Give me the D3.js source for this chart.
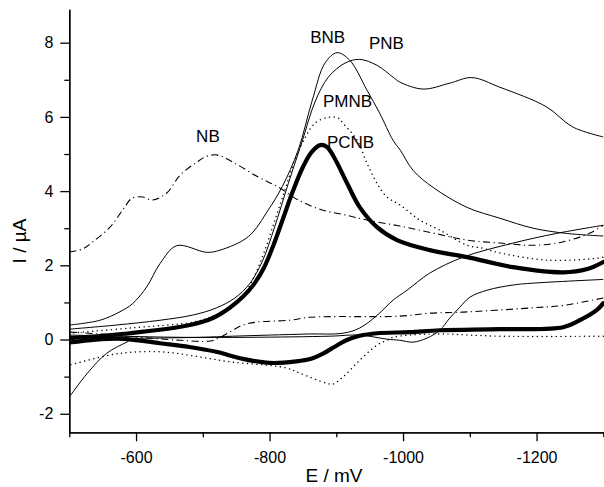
<!DOCTYPE html>
<html>
<head>
<meta charset="utf-8">
<script src="https://cdn.jsdelivr.net/npm/d3@7"></script>
<style>
  body { margin: 0; background: #fff; }
  text { font-family: "Liberation Sans", Arial, sans-serif; fill: #000; }
</style>
</head>
<body>
<div id="chart-area"></div>
<script>
// potential E (mV), current I (uA) -- forward and return branches of each CV
const nbFwd = [[-500,2.36],[-520,2.44],[-535,2.63],[-561,3.03],[-580,3.49],[-594,3.81],[-610,3.84],[-625,3.76],[-646,3.95],[-666,4.43],[-691,4.78],[-706,4.94],[-723,4.97],[-748,4.75],[-783,4.38],[-813,4.11],[-843,3.76],[-879,3.49],[-913,3.36],[-946,3.22],[-995,3.06],[-1045,2.87],[-1096,2.68],[-1145,2.60],[-1194,2.54],[-1239,2.63],[-1280,2.87],[-1300,3.08]];
const nbRev = [[-1300,1.12],[-1240,0.92],[-1190,0.85],[-1090,0.74],[-1040,0.71],[-995,0.63],[-860,0.60],[-830,0.52],[-781,0.47],[-760,0.39],[-745,0.25],[-726,0.06],[-711,-0.04],[-666,-0.02],[-606,0.06],[-546,0.15],[-500,0.20]];

const bnbFwd = [[-500,0.39],[-546,0.52],[-576,0.75],[-595,0.97],[-616,1.42],[-636,2.05],[-661,2.53],[-706,2.35],[-726,2.41],[-768,2.77],[-798,3.49],[-819,4.12],[-843,5.11],[-864,6.45],[-883,7.45],[-901,7.73],[-920,7.53],[-946,6.72],[-965,6.10],[-985,5.37],[-996,5.10],[-1015,4.56],[-1045,4.10],[-1096,3.56],[-1145,3.27],[-1195,3.00],[-1245,2.86],[-1300,2.79]];
const bnbRev = [[-1300,3.08],[-1230,2.86],[-1165,2.60],[-1090,2.22],[-1040,1.79],[-1006,1.33],[-985,1.06],[-961,0.65],[-935,0.31],[-910,0.17],[-860,0.15],[-800,0.12],[-745,0.09],[-696,0.06],[-636,0.04],[-595,0.01],[-586,-0.07],[-556,-0.37],[-527,-0.91],[-500,-1.55]];

const pnbFwd = [[-500,0.28],[-570,0.39],[-636,0.52],[-685,0.66],[-720,0.85],[-748,1.12],[-770,1.50],[-789,2.10],[-807,3.00],[-828,4.20],[-849,5.35],[-868,6.40],[-888,7.07],[-913,7.45],[-935,7.55],[-961,7.39],[-985,7.07],[-995,6.94],[-1030,6.75],[-1070,6.91],[-1103,7.06],[-1145,6.80],[-1215,6.27],[-1254,5.73],[-1300,5.46]];
const pnbRev = [[-1300,1.62],[-1195,1.52],[-1165,1.47],[-1126,1.33],[-1100,1.14],[-1085,0.87],[-1070,0.58],[-1055,0.25],[-1036,0.04],[-1015,-0.07],[-995,-0.02],[-976,0.01],[-935,0.12],[-890,0.09],[-771,0.06],[-666,0.06],[-576,0.09],[-500,0.12]];

const pmnbFwd = [[-500,0.17],[-591,0.31],[-685,0.47],[-711,0.60],[-741,0.87],[-763,1.25],[-778,1.74],[-793,2.41],[-808,3.22],[-823,4.03],[-838,4.84],[-853,5.43],[-868,5.83],[-888,5.99],[-903,5.97],[-910,5.83],[-931,5.38],[-946,4.75],[-961,4.21],[-976,3.84],[-996,3.62],[-1025,3.22],[-1055,2.95],[-1096,2.54],[-1120,2.46],[-1141,2.35],[-1216,2.14],[-1291,2.19],[-1300,2.22]];
const pmnbRev = [[-1300,0.09],[-1145,0.09],[-1055,0.15],[-1010,0.12],[-985,0.06],[-976,-0.02],[-961,-0.15],[-935,-0.56],[-910,-1.01],[-895,-1.20],[-886,-1.18],[-846,-0.91],[-826,-0.77],[-796,-0.69],[-745,-0.61],[-696,-0.47],[-645,-0.34],[-595,-0.34],[-560,-0.42],[-500,-0.69]];

const pcnbFwd = [[-500,0.04],[-591,0.17],[-681,0.39],[-715,0.58],[-740,0.85],[-760,1.15],[-777,1.50],[-792,1.95],[-806,2.55],[-820,3.25],[-835,4.00],[-850,4.65],[-863,5.05],[-876,5.24],[-886,5.19],[-897,4.90],[-916,4.22],[-935,3.57],[-961,3.03],[-991,2.68],[-1040,2.41],[-1096,2.22],[-1165,1.95],[-1240,1.81],[-1276,1.90],[-1300,2.09]];
const pcnbRev = [[-1300,0.98],[-1290,0.79],[-1265,0.52],[-1240,0.33],[-1145,0.28],[-1055,0.25],[-1010,0.20],[-961,0.17],[-935,0.10],[-915,-0.02],[-897,-0.20],[-880,-0.38],[-862,-0.52],[-840,-0.59],[-800,-0.63],[-760,-0.52],[-720,-0.33],[-680,-0.20],[-636,-0.10],[-581,0.02],[-540,0.00],[-500,-0.08]];

// curve labels: name, E and I of the text's start/baseline
const labelNames = ["NB", "BNB", "PNB", "PMNB", "PCNB"];
const labelE = [-690, -861, -949, -880, -886];
const labelI = [5.32, 7.99, 7.84, 6.26, 5.16];

const xMajor = [-600, -800, -1000, -1200];
const xMinor = [-500, -700, -900, -1100, -1300];
const yMajor = [-2, 0, 2, 4, 6, 8];
const yMinor = [-1, 1, 3, 5, 7];

const width = 604;
const height = 487;
const margin = { left: 69.3, right: 0.7, top: 9.3, bottom: 54.7 };
const chartWidth = width - margin.left - margin.right;
const chartHeight = height - margin.top - margin.bottom;

const svg = d3.select('#chart-area')
    .append('svg')
    .attr('width', width)
    .attr('height', height);

const g = svg.append('g')
    .attr('transform', `translate(${margin.left}, ${margin.top})`);

const x = d3.scaleLinear().domain([-500, -1300]).range([0, chartWidth]);
const y = d3.scaleLinear().domain([-2.5, 8.9]).range([chartHeight, 0]);

g.append('clipPath').attr('id', 'plot-clip')
    .append('rect')
    .attr('x', 0).attr('y', -5)
    .attr('width', chartWidth + 1).attr('height', chartHeight + 5);

const line = d3.line()
    .x(d => x(d[0]))
    .y(d => y(d[1]))
    .curve(d3.curveCatmullRom.alpha(0.5));

const styles = {
    thin: { w: 1, dash: null, cap: 'butt' },
    thick: { w: 4.2, dash: null, cap: 'round' },
    dot: { w: 1.4, dash: '0.1,4.6', cap: 'round' },
    dashdot: { w: 1.1, dash: '7,3.5,1.2,3.5', cap: 'butt' }
};

const curves = [
    { data: nbFwd, s: 'dashdot' }, { data: nbRev, s: 'dashdot' },
    { data: bnbFwd, s: 'thin' }, { data: bnbRev, s: 'thin' },
    { data: pnbFwd, s: 'thin' }, { data: pnbRev, s: 'thin' },
    { data: pmnbFwd, s: 'dot' }, { data: pmnbRev, s: 'dot' },
    { data: pcnbFwd, s: 'thick' }, { data: pcnbRev, s: 'thick' }
];

const plot = g.append('g').attr('clip-path', 'url(#plot-clip)');
plot.selectAll('path.cv')
    .data(curves)
    .enter()
    .append('path')
    .attr('class', 'cv')
    .attr('d', d => line(d.data))
    .attr('fill', 'none')
    .attr('stroke', '#000')
    .attr('stroke-width', d => styles[d.s].w)
    .attr('stroke-dasharray', d => styles[d.s].dash)
    .attr('stroke-linecap', d => styles[d.s].cap)
    .attr('stroke-linejoin', 'round');

// axes (plain hyphen minus, no thousands separator)
const fmt = d => String(d);
const xAxis = d3.axisBottom(x).tickValues(xMajor).tickSize(9).tickSizeOuter(0).tickPadding(10).tickFormat(fmt);
const xAxisMinor = d3.axisBottom(x).tickValues(xMinor).tickSize(5).tickSizeOuter(0).tickFormat('');
const yAxis = d3.axisLeft(y).tickValues(yMajor).tickSize(9).tickSizeOuter(0).tickPadding(7).tickFormat(fmt);
const yAxisMinor = d3.axisLeft(y).tickValues(yMinor).tickSize(5).tickSizeOuter(0).tickFormat('');

g.append('g').attr('class', 'x axis')
    .attr('transform', `translate(0, ${chartHeight})`)
    .call(xAxis);
g.append('g').attr('class', 'x axis minor')
    .attr('transform', `translate(0, ${chartHeight})`)
    .call(xAxisMinor);
g.append('g').attr('class', 'y axis').call(yAxis);
g.append('g').attr('class', 'y axis minor').call(yAxisMinor);

g.selectAll('.axis text')
    .style('font-family', '"Liberation Sans", Arial, sans-serif')
    .style('font-size', '16px')
    .style('fill', '#000');
g.selectAll('.axis .domain, .axis .tick line')
    .style('stroke', '#000')
    .style('stroke-width', 1.3);

// curve labels
g.selectAll('text.lbl')
    .data(labelNames)
    .enter()
    .append('text')
    .attr('class', 'lbl')
    .attr('x', (d, i) => x(labelE[i]))
    .attr('y', (d, i) => y(labelI[i]))
    .attr('font-size', '17px')
    .text(d => d);

// axis titles
svg.append('text')
    .attr('x', 334)
    .attr('y', 482)
    .attr('text-anchor', 'middle')
    .attr('font-size', '19px')
    .text('E / mV');

svg.append('text')
    .attr('transform', 'translate(26, 241) rotate(-90)')
    .attr('text-anchor', 'middle')
    .attr('font-size', '19px')
    .text('I / µA');
</script>
</body>
</html>
